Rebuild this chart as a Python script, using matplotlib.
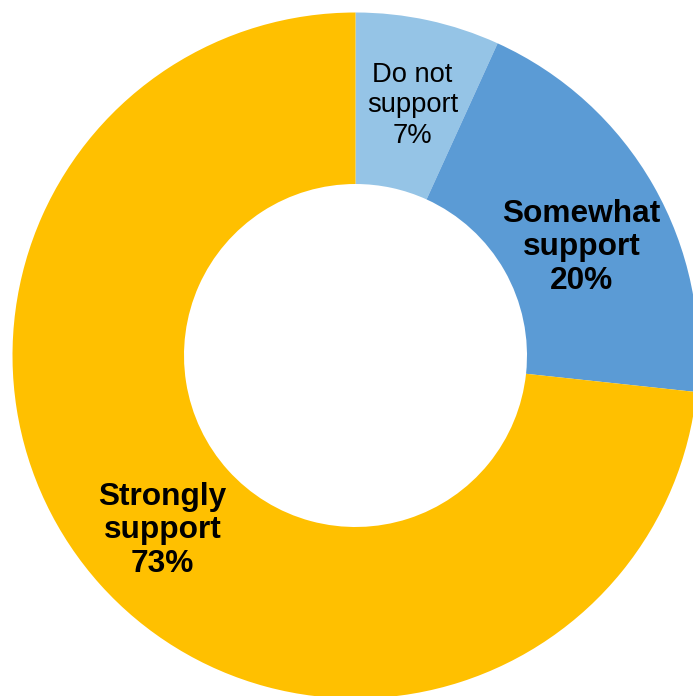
import matplotlib
matplotlib.use("Agg")
import matplotlib.pyplot as plt

categories = ["Do not\nsupport", "Somewhat\nsupport", "Strongly\nsupport"]
values = [6.8, 19.9, 73.3]
colors = ["#95C4E6", "#5B9BD5", "#FFC000"]
weights = ["normal", "bold", "bold"]
sizes = [19.7, 22.8, 22.8]
spacings = [1.22, 1.17, 1.17]
label_pos = [(0.166, 0.729), (0.659, 0.315), (-0.563, -0.510)]

plt.rcParams['font.family'] = ['Liberation Sans', 'DejaVu Sans']

fig = plt.figure(figsize=(6.93, 6.96), dpi=100)
ax = fig.add_axes([0, 0, 1, 1])
ax.pie(values, colors=colors, startangle=90, counterclock=False,
       radius=1.0, wedgeprops=dict(width=0.5, edgecolor='none'))
for cat, v, w, s, ls, (x, y) in zip(categories, values, weights, sizes, spacings, label_pos):
    ax.text(x, y, f"{cat}\n{round(v)}%", ha='center', va='center', fontsize=s,
            fontweight=w, color='black', linespacing=ls)
cx, cy, r = 355.5, 355.5, 343.0
ax.set_xlim(-cx / r, (693 - cx) / r)
ax.set_ylim((cy - 696) / r, cy / r)
ax.set_aspect('auto')
ax.axis('off')
fig.savefig("out.png", dpi=100)
